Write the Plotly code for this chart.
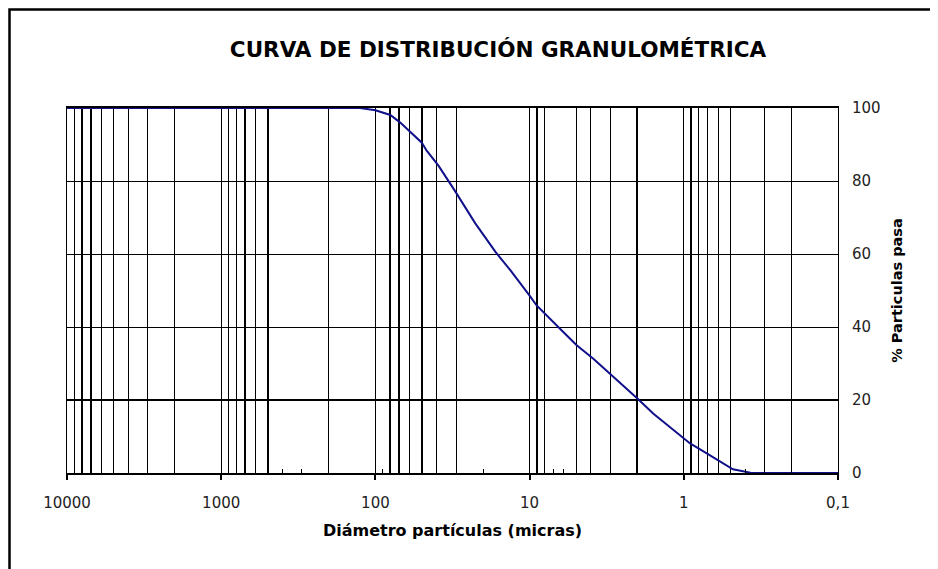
import plotly.graph_objects as go

# Curve data (diameter in microns, % passing)
diametro = [10000, 1000, 150, 126, 100, 80, 69, 60, 50, 46.5, 39, 30.5, 22.5,
            16.6, 13.3, 10, 9.0, 6.35, 4.95, 3.86, 3.0, 2.0, 1.58, 1.17, 0.91,
            0.71, 0.58, 0.48, 0.37, 0.3, 0.1]
pasa = [100, 100, 100, 100, 99.4, 98.1, 96.0, 93.7, 90.5, 88.3, 84.2, 77.3, 68.4,
        60.5, 55.5, 48.6, 45.9, 39.5, 35.0, 31.3, 27.2, 20.4, 16.3, 11.7, 8.1,
        5.4, 3.1, 1.0, 0.1, 0, 0]

x_tick_vals = [10000, 1000, 100, 10, 1, 0.1]
x_tick_text = ["10000", "1000", "100", "10", "1", "0,1"]
y_tick_vals = [0, 20, 40, 60, 80, 100]
y_tick_text = ["0", "20", "40", "60", "80", "100"]

# vertical grid lines present in the reference
grid_thin = [9000, 6000, 5000, 4000, 3000, 2000, 900, 800, 600, 200,
             60, 40, 30, 8, 5, 4, 3, 0.8, 0.7, 0.6, 0.5, 0.3, 0.2]
grid_thick = [8000, 7000, 700, 500, 80, 70, 50, 9, 2, 0.9]
minor_ticks = [m * 10 ** e for e in range(-1, 4) for m in range(2, 10)]

FONT = "DejaVu Sans"
XRANGE = [4, -1]

# page has an 8px body margin: figure sized/placed to compensate
W, H = 930, 561
L, R, T, B = 59, 100, 100, 96
PW, PH = W - L - R, H - T - B

fig = go.Figure()
fig.add_trace(go.Scatter(x=diametro, y=pasa, xaxis="x2", yaxis="y",
                         mode="lines", line=dict(color="rgba(0,0,0,0)", width=0),
                         hoverinfo="skip", showlegend=False))
fig.add_trace(go.Scatter(x=diametro, y=pasa, xaxis="x", yaxis="y",
                         mode="lines", line=dict(color="#10108a", width=2),
                         showlegend=False, cliponaxis=False))

fig.update_layout(
    width=W, height=H,
    margin=dict(l=L, r=R, t=T, b=B),
    paper_bgcolor="white", plot_bgcolor="white",
    font=dict(family=FONT, color="#222"),
    title=dict(text="<b>CURVA DE DISTRIBUCIÓN GRANULOMÉTRICA</b>",
               font=dict(family=FONT, size=21.5, color="black"),
               xref="paper", x=(490 - L) / PW, xanchor="center",
               yref="container", y=1 - 41 / H, yanchor="middle"),
    xaxis=dict(type="log", range=XRANGE, tickmode="array",
               tickvals=x_tick_vals, ticktext=x_tick_text,
               ticks="outside", ticklen=5, tickwidth=2, tickcolor="black",
               ticklabelstandoff=10,
               tickfont=dict(family=FONT, size=15, color="#222"),
               showgrid=True, gridcolor="black", gridwidth=1,
               showline=True, linecolor="black", linewidth=2, mirror=True,
               zeroline=False,
               minor=dict(tickvals=minor_ticks, ticks="inside", ticklen=4,
                          tickwidth=1, tickcolor="black", showgrid=False),
               title=dict(text="<b>Diámetro partículas (micras)</b>",
                          font=dict(family=FONT, size=16, color="black"),
                          standoff=14)),
    xaxis2=dict(type="log", range=XRANGE, overlaying="x", anchor="y",
                tickmode="array", tickvals=grid_thin, showticklabels=False,
                ticks="", showgrid=True, gridcolor="black", gridwidth=1,
                showline=False, zeroline=False,
                minor=dict(tickvals=grid_thick, ticks="", showgrid=True,
                           gridcolor="black", gridwidth=2)),
    yaxis=dict(range=[0, 100], side="right", tickmode="array",
               tickvals=y_tick_vals, ticktext=y_tick_text, ticks="",
               ticklabelstandoff=10,
               tickfont=dict(family=FONT, size=15, color="#222"),
               showgrid=True, gridcolor="black", gridwidth=1,
               showline=True, linecolor="black", linewidth=1, mirror=True,
               zeroline=False,
               minor=dict(tickvals=[20], ticks="", showgrid=True,
                          gridcolor="black", gridwidth=2),
               title=dict(text="<b>% Particulas pasa</b>",
                          font=dict(family=FONT, size=14.5, color="black"),
                          standoff=12)),
    shapes=[dict(type="rect", xref="paper", yref="paper",
                 x0=(1.5 - L) / PW, x1=(W + 20 - L) / PW,
                 y0=-(B + 20) / PH, y1=1 + (T - 1.5) / PH,
                 line=dict(color="black", width=2.5), fillcolor="rgba(0,0,0,0)",
                 layer="above")],
)

fig.write_html("out.html")
